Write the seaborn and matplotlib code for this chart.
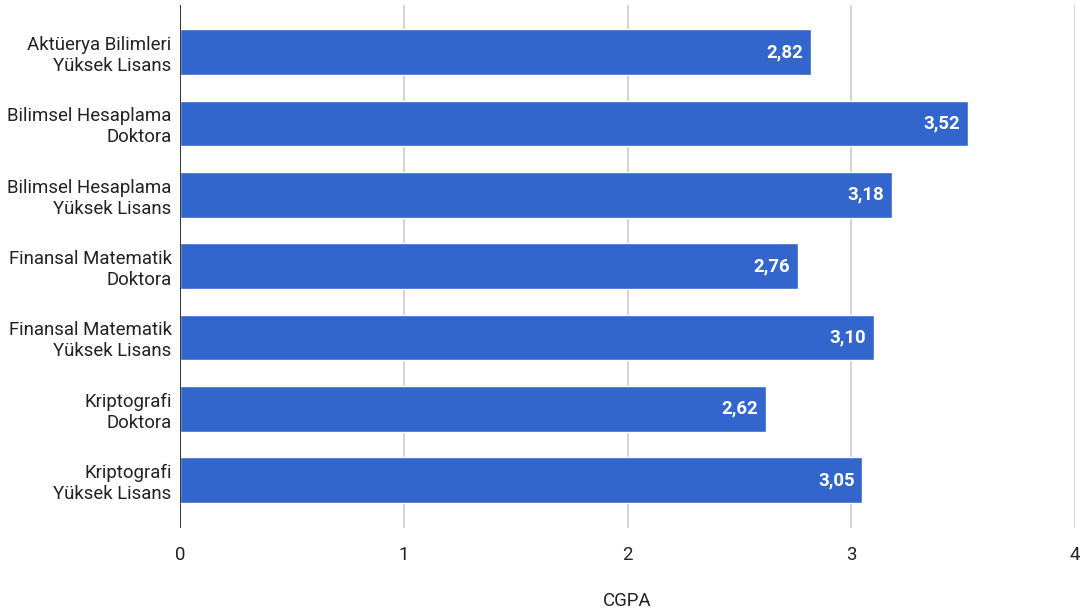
import matplotlib
matplotlib.use("Agg")
import matplotlib.pyplot as plt
import seaborn as sns
import pandas as pd

programs = [
    "Aktüerya Bilimleri\nYüksek Lisans",
    "Bilimsel Hesaplama\nDoktora",
    "Bilimsel Hesaplama\nYüksek Lisans",
    "Finansal Matematik\nDoktora",
    "Finansal Matematik\nYüksek Lisans",
    "Kriptografi\nDoktora",
    "Kriptografi\nYüksek Lisans",
]
cgpa = [2.82, 3.52, 3.18, 2.76, 3.10, 2.62, 3.05]
x_ticks = [0, 1, 2, 3, 4]

df = pd.DataFrame({"program": programs, "cgpa": cgpa})

sns.set_theme(style="white")
plt.rcParams["font.family"] = ["Roboto", "DejaVu Sans"]

fig = plt.figure(figsize=(10.82, 6.16), dpi=100)
ax = fig.add_axes([0.1664, 0.1429, 0.8271, 0.849])

sns.barplot(data=df, x="cgpa", y="program", orient="h", color="#3366cc",
            saturation=1, width=0.64, ax=ax, zorder=3)

ax.set_xlim(0, 4)
ax.set_ylim(6.67, -0.66)
ax.set_xticks(x_ticks)
ax.set_xticklabels([str(t) for t in x_ticks], fontsize=13.4, color="#222222")
ax.tick_params(axis="x", length=0, pad=13)
ax.tick_params(axis="y", length=0, pad=6, labelsize=13.4, labelcolor="#222222")
for t in x_ticks[1:]:
    ax.axvline(t, color="#cccccc", lw=1.2, zorder=1)
ax.axvline(0, color="#333333", lw=1.4, zorder=4)
for s in ax.spines.values():
    s.set_visible(False)

ax.set_ylabel("")
ax.set_xlabel("")
fig.text(0.1664 + 0.8271 / 2, 1 - 601 / 616, "CGPA", ha="center", va="center",
         fontsize=13.4, color="#222222")

for i, v in enumerate(cgpa):
    ax.text(v - 0.035, i, f"{v:.2f}".replace(".", ","), ha="right", va="center",
            color="white", fontsize=13.4, fontweight="bold", zorder=5)

fig.savefig("out.png", dpi=100)
